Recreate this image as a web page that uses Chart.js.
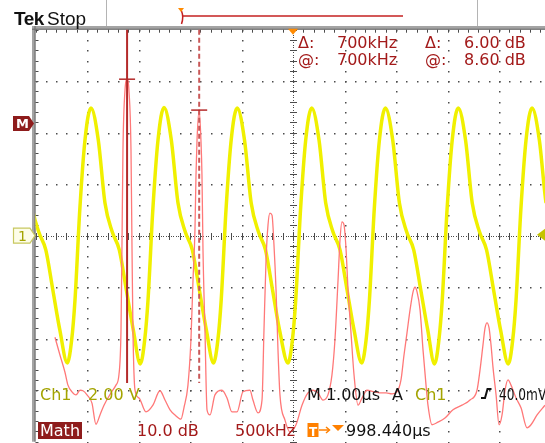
<!DOCTYPE html>
<html>
<head>
<meta charset="utf-8">
<script src="https://cdn.jsdelivr.net/npm/chart.js@4"></script>
<style>
  html, body { margin: 0; padding: 0; background: #fff; }
  #scope { position: relative; width: 545px; height: 443px; overflow: hidden; font-family: "DejaVu Sans", sans-serif; }
  #scope canvas { position: absolute; left: 0; top: 0; }
  .t { position: absolute; white-space: pre; font-size: 16px; line-height: 16px; }
  .red { color: #a31a1a; }
  .olive { color: #a4a400; }
  .blk { color: #111; }
</style>
</head>
<body>
<div id="scope">
  <canvas id="c" width="545" height="443"></canvas>

  <span class="t blk" style="left:14px;top:8px;font:bold 19px 'Liberation Sans';letter-spacing:-0.5px">Tek</span>
  <span class="t blk" style="left:47px;top:8px;font:19px 'Liberation Sans'">Stop</span>

  <span class="t red" style="left:298px;top:35px">Δ:</span>
  <span class="t red" style="left:337px;top:35px">700kHz</span>
  <span class="t red" style="left:425px;top:35px">Δ:</span>
  <span class="t red" style="left:464px;top:35px">6.00 dB</span>
  <span class="t red" style="left:298px;top:51.5px">@:</span>
  <span class="t red" style="left:337px;top:51.5px">700kHz</span>
  <span class="t red" style="left:425px;top:51.5px">@:</span>
  <span class="t red" style="left:464px;top:51.5px">8.60 dB</span>

  <span class="t" style="left:16px;top:116px;color:#fff;font-weight:bold;font-size:13px">M</span>
  <span class="t olive" style="left:18px;top:228px;font-size:14px">1</span>

  <span class="t olive" style="left:40px;top:386.5px">Ch1</span>
  <span class="t olive" style="left:88px;top:386.5px">2.00 V</span>
  <span class="t blk" style="left:307px;top:386.5px">M 1.00µs</span>
  <span class="t blk" style="left:392px;top:386.5px">A</span>
  <span class="t olive" style="left:415px;top:386.5px">Ch1</span>
  <span class="t blk" style="left:499px;top:386.5px;transform:scaleX(0.76);transform-origin:0 0">40.0mV</span>

  <span class="t" style="left:40px;top:422.5px;color:#fff">Math</span>
  <span class="t red" style="left:137px;top:422.5px">10.0 dB</span>
  <span class="t red" style="left:235px;top:422.5px">500kHz</span>
  <span class="t" style="left:309px;top:424px;color:#fff;font-weight:bold;font-size:12px">T</span>
  <span class="t blk" style="left:346px;top:422.5px">998.440µs</span>
</div>
<script>
// Ch1: 1 µs/div, 2 V/div (time in µs, value in V)
const ch1Time = [
  -5.810, -5.725, -5.660, -5.567, -5.466, -5.350, -5.208, -5.078, -4.936, -4.800, -4.664, -4.528,
  -4.383, -4.298, -4.233, -4.140, -4.039, -3.923, -3.781, -3.651, -3.509, -3.373, -3.237, -3.101,
  -2.965, -2.880, -2.815, -2.722, -2.621, -2.505, -2.363, -2.233, -2.091, -1.955, -1.819, -1.683,
  -1.544, -1.459, -1.394, -1.301, -1.200, -1.084, -0.942, -0.812, -0.670, -0.534, -0.398, -0.262,
  -0.097, -0.012, 0.053, 0.146, 0.247, 0.363, 0.505, 0.635, 0.777, 0.913, 1.049, 1.185,
  1.334, 1.419, 1.484, 1.577, 1.678, 1.794, 1.936, 2.066, 2.208, 2.344, 2.480, 2.616,
  2.748, 2.833, 2.898, 2.991, 3.092, 3.208, 3.350, 3.480, 3.622, 3.758, 3.894, 4.030,
  4.181, 4.266, 4.331, 4.424, 4.525, 4.641, 4.783, 4.913, 5.055
];
const ch1Volts = [
  -4.94, -4.05, -2.49, 1.00, 3.72, 4.96, 3.72, 1.27, 0.14, -0.55, -2.10, -3.66,
  -4.94, -4.05, -2.49, 1.00, 3.72, 4.96, 3.72, 1.27, 0.14, -0.55, -2.10, -3.66,
  -4.98, -4.05, -2.49, 1.00, 3.72, 4.98, 3.72, 1.27, 0.14, -0.55, -2.10, -3.66,
  -4.94, -4.05, -2.49, 1.00, 3.72, 4.96, 3.72, 1.27, 0.14, -0.55, -2.10, -3.66,
  -4.94, -4.05, -2.49, 1.00, 3.72, 4.96, 3.72, 1.27, 0.14, -0.55, -2.10, -3.66,
  -4.94, -4.05, -2.49, 1.00, 3.72, 4.96, 3.72, 1.27, 0.14, -0.55, -2.10, -3.66,
  -4.98, -4.05, -2.49, 1.00, 3.72, 4.96, 3.72, 1.27, 0.14, -0.55, -2.10, -3.66,
  -4.98, -4.05, -2.49, 1.00, 3.72, 4.96, 3.72, 1.27, 0.14
];

// Math (FFT of Ch1): 500 kHz/div (in MHz), 10 dB/div
const fftFreq = [
  0.000, 0.049, 0.097, 0.126, 0.165, 0.204, 0.243, 0.272, 0.311, 0.359,
  0.398, 0.437, 0.476, 0.544, 0.592, 0.621, 0.641, 0.650, 0.660, 0.680,
  0.700, 0.718, 0.738, 0.748, 0.757, 0.777, 0.816, 0.883, 0.951, 1.019,
  1.068, 1.117, 1.165, 1.223, 1.252, 1.291, 1.320, 1.340, 1.359, 1.369,
  1.379, 1.400, 1.417, 1.427, 1.437, 1.456, 1.476, 1.505, 1.553, 1.621,
  1.670, 1.718, 1.767, 1.825, 1.893, 1.922, 1.971, 2.010, 2.029, 2.049,
  2.068, 2.087, 2.107, 2.126, 2.146, 2.165, 2.184, 2.233, 2.282, 2.340,
  2.398, 2.456, 2.505, 2.553, 2.602, 2.650, 2.689, 2.718, 2.748, 2.767,
  2.786, 2.806, 2.825, 2.845, 2.874, 2.903, 2.942, 2.981, 3.029, 3.097,
  3.155, 3.214, 3.272, 3.320, 3.359, 3.388, 3.417, 3.447, 3.476, 3.495,
  3.515, 3.544, 3.573, 3.602, 3.621, 3.660, 3.718, 3.786, 3.864, 3.951,
  4.029, 4.097, 4.126, 4.155, 4.175, 4.194, 4.214, 4.233, 4.252, 4.282,
  4.311, 4.340, 4.369, 4.398, 4.427, 4.476, 4.524, 4.583, 4.621, 4.680,
  4.757
];
const fftDb = [
  -41.5, -45.0, -48.3, -50.8, -52.1, -52.7, -51.8, -51.9, -52.7, -54.3,
  -58.4, -56.6, -54.7, -52.3, -50.8, -48.8, -40.1, -24.6, -5.2, 6.5,
  8.6, 6.5, -5.2, -24.6, -40.1, -51.8, -53.3, -56.0, -54.7, -51.9,
  -53.7, -55.6, -56.6, -57.4, -55.2, -50.8, -42.0, -30.4, -20.7, -10.0,
  -3.2, 2.6, -3.2, -10.0, -24.6, -40.1, -55.6, -56.6, -52.7, -51.8,
  -53.3, -56.0, -56.0, -52.1, -51.8, -53.7, -56.2, -53.7, -40.1, -26.5,
  -19.7, -17.4, -17.8, -23.6, -32.3, -44.0, -52.7, -57.6, -59.9, -58.5,
  -54.7, -52.3, -51.8, -52.3, -53.7, -52.7, -48.8, -42.0, -30.4, -22.6,
  -19.1, -19.7, -24.2, -32.3, -40.7, -48.8, -54.7, -53.3, -51.8, -52.1,
  -52.3, -52.3, -52.5, -52.1, -49.8, -45.0, -40.7, -36.2, -32.7, -31.8,
  -32.7, -36.2, -44.0, -50.8, -54.7, -58.5, -58.0, -57.2, -55.6, -54.7,
  -53.7, -51.8, -47.9, -43.0, -39.7, -38.7, -39.7, -43.0, -47.3, -52.7,
  -58.5, -56.6, -51.8, -49.8, -50.8, -53.3, -55.2, -59.1, -58.5, -56.6,
  -54.7
];

// cursors (MHz / dB), trigger level (V), math reference (dB)
const cursorFreq = [0.7, 1.4];
const cursorDb = [8.6, 2.6];
const triggerLevel = 0.04;
const mathRef = 0;

const ch1Points = ch1Time.map((t, i) => ({ x: t, y: ch1Volts[i] }));
const fftPoints = fftFreq.map((f, i) => ({ x: f, y: fftDb[i] }));

const graticule = {
  id: 'graticule',
  beforeDatasetsDraw(chart) {
    const { ctx, chartArea: a, scales: { x, y } } = chart;
    ctx.save();
    // frame
    ctx.fillStyle = '#a4a4a4';
    ctx.fillRect(32, 26, a.right - 32, a.top - 26);
    ctx.fillRect(32, 26, a.left - 32, a.bottom - 26);
    ctx.fillStyle = '#6a6a6a';
    ctx.fillRect(32, a.top - 1, a.right - 32, 1);
    ctx.fillRect(a.left - 1, 26, 1, a.bottom - 26);

    ctx.fillStyle = '#4c4c4c';
    // minor ticks along frame
    for (let t = -5; t <= 5; t += 0.2) {
      const px = Math.round(x.getPixelForValue(t));
      if (px > a.right) break;
      ctx.fillRect(px, a.top, 1, 3);
    }
    for (let v = -8; v <= 8.01; v += 0.4) {
      const py = Math.round(y.getPixelForValue(v));
      ctx.fillRect(a.left, py, 3, 1);
    }
    // dotted major lines
    for (let t = -4; t <= 4; t++) {
      if (t === 0) continue;
      const px = Math.round(x.getPixelForValue(t));
      for (let v = -8; v <= 8.01; v += 0.4) {
        ctx.fillRect(px, Math.round(y.getPixelForValue(v)), 1.5, 1.5);
      }
    }
    for (let v = -6; v <= 6; v += 2) {
      if (v === 0) continue;
      const py = Math.round(y.getPixelForValue(v));
      for (let t = -5; t <= 5; t += 0.2) {
        const px = Math.round(x.getPixelForValue(t));
        if (px > a.right) break;
        ctx.fillRect(px, py, 1.5, 1.5);
      }
    }
    // centre axes with ticks
    const cx = Math.round(x.getPixelForValue(0));
    const cy = Math.round(y.getPixelForValue(0));
    for (let py = a.top; py < a.bottom; py += 2.5) ctx.fillRect(cx, Math.round(py), 1, 1);
    for (let px = a.left; px < a.right; px += 2.5) ctx.fillRect(Math.round(px), cy, 1, 1);
    for (let v = -8; v <= 8.01; v += 0.4) {
      ctx.fillRect(cx - 3, Math.round(y.getPixelForValue(v)), 7, 1);
    }
    for (let t = -5; t <= 5; t += 0.2) {
      const px = Math.round(x.getPixelForValue(t));
      if (px > a.right) break;
      ctx.fillRect(px, cy - 3, 1, 7);
    }

    // top status bar
    ctx.fillStyle = '#b4b4b4';
    ctx.fillRect(106, 0, 1, 26);
    ctx.fillRect(477, 0, 1, 26);
    ctx.strokeStyle = '#c42020';
    ctx.lineWidth = 1.5;
    ctx.beginPath(); ctx.moveTo(183, 16); ctx.lineTo(403, 16); ctx.stroke();
    ctx.beginPath(); ctx.moveTo(181.5, 11); ctx.quadraticCurveTo(184, 17, 181.5, 24); ctx.stroke();
    ctx.fillStyle = '#ff8a00';
    ctx.beginPath(); ctx.moveTo(178, 8); ctx.lineTo(184, 8); ctx.lineTo(181, 12); ctx.closePath(); ctx.fill();
    ctx.restore();
  }
};

const overlay = {
  id: 'overlay',
  afterDatasetsDraw(chart) {
    const { ctx, chartArea: a, scales: { x, y, xf, yd } } = chart;
    ctx.save();
    // FFT cursors
    cursorFreq.forEach((f, i) => {
      const px = xf.getPixelForValue(f);
      ctx.strokeStyle = i === 0 ? '#b42a2a' : '#c85858';
      ctx.lineWidth = 2;
      ctx.setLineDash(i === 0 ? [] : [5, 3]);
      ctx.beginPath(); ctx.moveTo(px, a.top); ctx.lineTo(px, 383); ctx.stroke();
      ctx.setLineDash([]);
      const py = yd.getPixelForValue(cursorDb[i]);
      ctx.strokeStyle = '#b42a2a';
      ctx.lineWidth = 1.5;
      ctx.beginPath(); ctx.moveTo(px - 8, py); ctx.lineTo(px + 8, py); ctx.stroke();
    });

    // trigger position (orange) at t = 0
    const tx = x.getPixelForValue(0);
    ctx.fillStyle = '#ff8a00';
    ctx.beginPath(); ctx.moveTo(tx - 5, a.top - 1); ctx.lineTo(tx + 5, a.top - 1); ctx.lineTo(tx, a.top + 5); ctx.closePath(); ctx.fill();

    // trigger level marker on the right
    const ty = y.getPixelForValue(triggerLevel);
    ctx.fillStyle = '#c4c400';
    ctx.beginPath(); ctx.moveTo(a.right - 8, ty); ctx.lineTo(a.right, ty - 6); ctx.lineTo(a.right, ty + 6); ctx.closePath(); ctx.fill();

    // M marker
    const my = yd.getPixelForValue(mathRef);
    ctx.fillStyle = '#8e1c1c';
    ctx.beginPath();
    ctx.moveTo(13, my - 7.5); ctx.lineTo(29, my - 7.5); ctx.lineTo(34, my); ctx.lineTo(29, my + 7.5); ctx.lineTo(13, my + 7.5);
    ctx.closePath(); ctx.fill();

    // Ch1 ground marker
    const gy = y.getPixelForValue(0);
    ctx.fillStyle = '#fdfde8';
    ctx.strokeStyle = '#c8c860';
    ctx.lineWidth = 1.2;
    ctx.beginPath();
    ctx.moveTo(13.5, gy - 7.5); ctx.lineTo(30, gy - 7.5); ctx.lineTo(35, gy); ctx.lineTo(30, gy + 7.5); ctx.lineTo(13.5, gy + 7.5);
    ctx.closePath(); ctx.fill(); ctx.stroke();

    // trigger slope symbol
    ctx.strokeStyle = '#111';
    ctx.lineWidth = 2;
    ctx.beginPath(); ctx.moveTo(481, 398); ctx.lineTo(485, 398); ctx.lineTo(487.5, 389); ctx.lineTo(491.5, 389); ctx.stroke();

    // Math label box
    ctx.fillStyle = '#8e1c1c';
    ctx.fillRect(38, 422, 44, 17);

    // trigger position readout symbols
    ctx.fillStyle = '#ff8000';
    ctx.fillRect(307.5, 423, 11, 14);
    ctx.strokeStyle = '#ff8000';
    ctx.lineWidth = 1.5;
    ctx.beginPath(); ctx.moveTo(319, 430); ctx.lineTo(329, 430); ctx.stroke();
    ctx.beginPath(); ctx.moveTo(326, 427); ctx.lineTo(329.5, 430); ctx.lineTo(326, 433); ctx.stroke();
    ctx.beginPath(); ctx.moveTo(332, 425); ctx.lineTo(344, 425); ctx.lineTo(338, 431); ctx.closePath(); ctx.fill();
    ctx.restore();
  }
};

new Chart(document.getElementById('c'), {
  type: 'line',
  data: {
    datasets: [
      {
        label: 'Math',
        data: fftPoints,
        xAxisID: 'xf',
        yAxisID: 'yd',
        borderColor: '#ff7878',
        borderWidth: 1.3,
        pointRadius: 0,
        cubicInterpolationMode: 'monotone',
        order: 0
      },
      {
        label: 'Ch1',
        data: ch1Points,
        xAxisID: 'x',
        yAxisID: 'y',
        borderColor: '#f0f000',
        borderWidth: 3.5,
        pointRadius: 0,
        cubicInterpolationMode: 'monotone',
        order: 1
      }
    ]
  },
  options: {
    responsive: false,
    animation: false,
    events: [],
    layout: { padding: { left: 35.5, top: 29.7, right: 0, bottom: 1.3 } },
    scales: {
      x: { type: 'linear', min: -5, max: 4.893, display: false },
      y: { type: 'linear', min: -8, max: 8, display: false },
      xf: { type: 'linear', min: -0.189, max: 4.757, display: false },
      yd: { type: 'linear', min: -61.79, max: 18.21, display: false }
    },
    plugins: { legend: { display: false }, tooltip: { enabled: false } }
  },
  plugins: [graticule, overlay]
});
</script>
</body>
</html>
